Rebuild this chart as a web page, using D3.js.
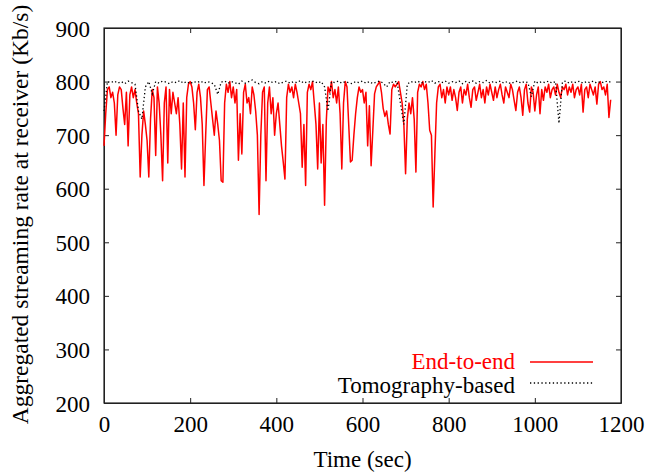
<!DOCTYPE html>
<html>
<head>
<meta charset="utf-8">
<script src="https://cdn.jsdelivr.net/npm/d3@7"></script>
<style>
  body { margin: 0; background: #fff; }
  svg text { font-family: "Liberation Serif", "Times New Roman", serif; }
</style>
</head>
<body>
<div id="chart"></div>
<script>
// samples every 4 sec, end-to-end measurement
var e2eStep = 4;
var endToEnd = [
  680, 740, 785, 790, 770, 780, 760, 700, 775, 790,
  785, 750, 720, 780, 680, 775, 790, 770, 785, 760,
  740, 622, 700, 745, 720, 690, 622, 730, 785, 770,
  662, 790, 760, 700, 615, 760, 790, 648, 785, 740,
  780, 760, 740, 770, 720, 637, 760, 622, 770, 795,
  800, 790, 760, 710, 780, 795, 770, 720, 606, 700,
  785, 790, 760, 730, 700, 745, 720, 690, 615, 612,
  760, 795, 780, 800, 770, 790, 760, 785, 653, 740,
  665, 780, 795, 760, 770, 740, 790, 775, 745, 700,
  552, 700, 780, 790, 615, 760, 790, 740, 770, 700,
  740, 760, 720, 680, 650, 618, 770, 795, 780, 790,
  770, 795, 780, 760, 740, 640, 720, 606, 780, 795,
  785, 800, 760, 720, 637, 760, 648, 720, 569, 727,
  790, 780, 800, 770, 785, 760, 790, 740, 637, 760,
  800, 790, 720, 650, 653, 700, 740, 770, 790, 780,
  785, 760, 780, 680, 755, 643, 709, 777, 790, 795,
  800, 780, 750, 735, 745, 720, 702, 785, 795, 790,
  795, 800, 780, 760, 720, 628, 730, 760, 740, 770,
  730, 631, 780, 795, 790, 800, 785, 795, 760, 709,
  700, 566, 665, 760, 790, 795, 770, 785, 760, 790,
  775, 790, 765, 785, 770, 746, 780, 790, 760, 785,
  775, 795, 770, 752, 785, 790, 765, 780, 795, 770,
  785, 760, 790, 775, 795, 780, 765, 790, 770, 785,
  795, 775, 760, 790, 780, 770, 795, 785, 765, 746,
  780, 790, 770, 737, 785, 795, 760, 743, 790, 780,
  745, 775, 790, 740, 785, 765, 790, 780, 795, 770,
  785, 790, 775, 795, 780, 770, 790, 785, 795, 775,
  790, 780, 795, 770, 785, 790, 775, 795, 743, 785,
  790, 770, 795, 785, 775, 790, 758, 795, 800, 785,
  790, 775, 795, 733, 766
];

// samples every 8 sec, tomography-based
var tomoStep = 8;
var tomography = [
  745, 800, 798, 801, 797, 800, 796, 801, 798, 795,
  745, 730, 790, 800, 777, 800, 797, 801, 799, 796,
  800, 798, 802, 797, 800, 796, 800, 798, 801, 797,
  800, 798, 795, 776, 799, 801, 797, 800, 798, 795,
  801, 797, 800, 803, 798, 796, 800, 797, 801, 798,
  800, 796, 799, 801, 797, 800, 798, 802, 797, 800,
  799, 801, 797, 800, 790, 745, 800, 798, 801, 797,
  800, 798, 796, 800, 798, 801, 797, 800, 796, 799,
  801, 797, 790, 800, 798, 801, 760, 720, 795, 800,
  798, 801, 797, 800, 798, 802, 797, 800, 798, 801,
  797, 800, 798, 801, 796, 800, 798, 801, 797, 800,
  798, 802, 797, 800, 798, 801, 797, 800, 796, 799,
  801, 797, 800, 798, 772, 801, 797, 800, 798, 801,
  797, 800, 722, 799, 801, 797, 800, 798, 801, 797,
  800, 798, 801, 797, 800, 798, 801, 799
];

var xTicks = [0, 200, 400, 600, 800, 1000, 1200];
var yTicks = [200, 300, 400, 500, 600, 700, 800, 900];

var margin = { top: 28, right: 36, bottom: 72, left: 104 };
var width = 657 - margin.left - margin.right;
var height = 475 - margin.top - margin.bottom;

var svg = d3.select("#chart")
  .append("svg")
  .attr("width", 657)
  .attr("height", 475)
  .append("g")
  .attr("transform", "translate(" + margin.left + "," + margin.top + ")");

var x = d3.scaleLinear().domain([0, 1200]).range([0, width]);
var y = d3.scaleLinear().domain([200, 900]).range([height, 0]);

var fontSize = "23px";

// axes: ticks pointing inward, mirrored on top/right
svg.append("g")
  .attr("transform", "translate(0," + height + ")")
  .call(d3.axisBottom(x).tickValues(xTicks).tickFormat(d3.format("d")).tickSize(-5).tickPadding(13).tickSizeOuter(0))
  .call(g => g.selectAll("text").attr("font-size", fontSize).attr("fill", "#000"));

svg.append("g")
  .call(d3.axisLeft(y).tickValues(yTicks).tickSize(-5).tickPadding(14).tickSizeOuter(0))
  .call(g => g.selectAll("text").attr("font-size", fontSize).attr("fill", "#000").attr("dy", "0.35em"));

svg.append("g")
  .call(d3.axisTop(x).tickValues(xTicks).tickSize(-5).tickFormat("").tickSizeOuter(0));

svg.append("g")
  .attr("transform", "translate(" + width + ",0)")
  .call(d3.axisRight(y).tickValues(yTicks).tickSize(-5).tickFormat("").tickSizeOuter(0));

svg.selectAll(".domain").attr("stroke", "#222");
svg.selectAll(".tick line").attr("stroke", "#222");

svg.append("rect")
  .attr("width", width)
  .attr("height", height)
  .attr("fill", "none")
  .attr("stroke", "#222")
  .attr("stroke-width", 1.2);

var lineE2E = d3.line()
  .x((d, i) => x(i * e2eStep))
  .y(d => y(d));

var lineTomo = d3.line()
  .x((d, i) => x(i * tomoStep))
  .y(d => y(d));

svg.append("path")
  .datum(endToEnd)
  .attr("d", lineE2E)
  .attr("fill", "none")
  .attr("stroke", "#ff0000")
  .attr("stroke-width", 1.5)
  .attr("stroke-linejoin", "round");

svg.append("path")
  .datum(tomography)
  .attr("d", lineTomo)
  .attr("fill", "none")
  .attr("stroke", "#000")
  .attr("stroke-width", 1.3)
  .attr("stroke-dasharray", "1.3,2.5");

// legend
var legend = svg.append("g");
legend.append("text")
  .attr("x", 411).attr("y", 341)
  .attr("text-anchor", "end")
  .attr("font-size", fontSize)
  .attr("fill", "#ff0000")
  .text("End-to-end");
legend.append("line")
  .attr("x1", 426).attr("x2", 489)
  .attr("y1", 334).attr("y2", 334)
  .attr("stroke", "#ff0000").attr("stroke-width", 1.5);
legend.append("text")
  .attr("x", 411).attr("y", 365)
  .attr("text-anchor", "end")
  .attr("font-size", fontSize)
  .attr("fill", "#000")
  .text("Tomography-based");
legend.append("line")
  .attr("x1", 426).attr("x2", 489)
  .attr("y1", 355).attr("y2", 355)
  .attr("stroke", "#000").attr("stroke-width", 1.3)
  .attr("stroke-dasharray", "1.3,2.5");

// axis titles
svg.append("text")
  .attr("x", width / 2)
  .attr("y", height + 64)
  .attr("text-anchor", "middle")
  .attr("font-size", fontSize)
  .text("Time (sec)");

svg.append("text")
  .attr("transform", "translate(" + (-76) + "," + (height / 2 - 1) + ") rotate(-90)")
  .attr("text-anchor", "middle")
  .attr("font-size", "23.5px")
  .text("Aggregated streaming rate at receiver (Kb/s)");
</script>
</body>
</html>
